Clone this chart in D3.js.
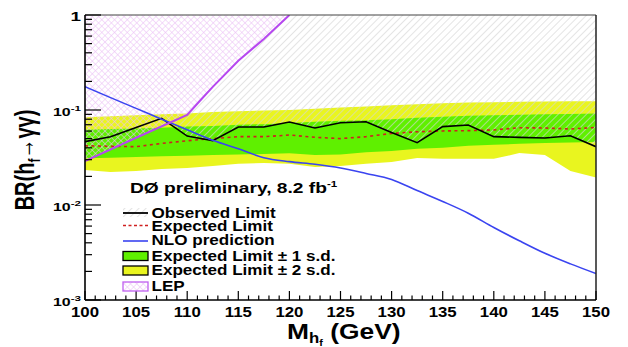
<!DOCTYPE html>
<html>
<head>
<meta charset="utf-8">
<script src="https://cdn.jsdelivr.net/npm/d3@7"></script>
<style>
  body { margin: 0; background: #fff; }
  text { font-family: "Liberation Sans", Arial, sans-serif; font-weight: bold; fill: #000; }
</style>
</head>
<body>
<svg id="chart" width="628" height="347"></svg>
<script>
// ---- data ----
var masses   = [100, 102.5, 105, 107.5, 110, 112.5, 115, 117.5, 120, 122.5, 125, 127.5, 130, 132.5, 135, 137.5, 140, 142.5, 145, 147.5, 150];
var observed = [0.0464, 0.0524, 0.0654, 0.0818, 0.0532, 0.0475, 0.0662, 0.0662, 0.0748, 0.0647, 0.0735, 0.0753, 0.058, 0.0453, 0.0668, 0.0695, 0.0524, 0.0515, 0.0507, 0.0536, 0.0411];
var expected = [0.042, 0.0415, 0.0411, 0.0445, 0.0475, 0.050, 0.0524, 0.0524, 0.0545, 0.0516, 0.050, 0.0524, 0.0567, 0.059, 0.0602, 0.0606, 0.0617, 0.065, 0.0647, 0.0631, 0.0656];
var sd2Up    = [0.084, 0.086, 0.088, 0.090, 0.092, 0.095, 0.097, 0.099, 0.100, 0.103, 0.106, 0.109, 0.112, 0.115, 0.118, 0.120, 0.121, 0.122, 0.123, 0.124, 0.124];
var sd1Up    = [0.062, 0.063, 0.064, 0.065, 0.067, 0.068, 0.070, 0.071, 0.073, 0.075, 0.077, 0.078, 0.080, 0.083, 0.085, 0.087, 0.088, 0.089, 0.090, 0.091, 0.092];
var sd1Down  = [0.031, 0.0315, 0.032, 0.0325, 0.033, 0.0335, 0.034, 0.0345, 0.035, 0.0336, 0.034, 0.036, 0.037, 0.039, 0.040, 0.042, 0.043, 0.044, 0.045, 0.0455, 0.046];
var sd2Down  = [0.0234, 0.0223, 0.0228, 0.0239, 0.0245, 0.0257, 0.0271, 0.0277, 0.0271, 0.0251, 0.0257, 0.0271, 0.0284, 0.0313, 0.0306, 0.0306, 0.0306, 0.0352, 0.0336, 0.0228, 0.0195];
var nlo      = [0.176, 0.135, 0.104, 0.080, 0.062, 0.048, 0.039, 0.0315, 0.0286, 0.0268, 0.0245, 0.0215, 0.0186, 0.0142, 0.0109, 0.0082, 0.0058, 0.0042, 0.0031, 0.0024, 0.0019];
var lepMass  = [100, 105, 110, 111.25, 112.5, 115, 117.5, 120];
var lep      = [0.029, 0.051, 0.089, 0.125, 0.175, 0.33, 0.56, 1.0];

var xTicks = [100, 105, 110, 115, 120, 125, 130, 135, 140, 145, 150];
var yTicks = [0.001, 0.01, 0.1, 1];
var yTickExp = ["-3", "-2", "-1", ""];
var legendLabels = ["Observed Limit", "Expected Limit", "NLO prediction", "Expected Limit \u00b1 1 s.d.", "Expected Limit \u00b1 2 s.d.", "LEP"];

// ---- layout ----
var pL = 85, pR = 596, pT = 15, pB = 300;
var x = d3.scaleLinear().domain([100, 150]).range([pL, pR]);
var y = d3.scaleLog().domain([0.001, 1]).range([pB, pT]);

var svg = d3.select("#chart");
var defs = svg.append("defs");

// gray "/" hatch for the excluded region
var gh = defs.append("pattern").attr("id", "grayHatch")
  .attr("patternUnits", "userSpaceOnUse").attr("width", 5).attr("height", 5)
  .attr("patternTransform", "rotate(45)");
gh.append("line").attr("x1", 0).attr("y1", 0).attr("x2", 0).attr("y2", 5)
  .attr("stroke", "#d6d6d6").attr("stroke-width", 1.3);

// pink cross hatch for LEP
var ph = defs.append("pattern").attr("id", "pinkHatch")
  .attr("patternUnits", "userSpaceOnUse").attr("width", 4.5).attr("height", 4.5)
  .attr("patternTransform", "rotate(45)");
ph.append("line").attr("x1", 0).attr("y1", 0).attr("x2", 0).attr("y2", 4.5)
  .attr("stroke", "#ecc0f6").attr("stroke-width", 1.1);
ph.append("line").attr("x1", 0).attr("y1", 0).attr("x2", 4.5).attr("y2", 0)
  .attr("stroke", "#ecc0f6").attr("stroke-width", 1.1);

defs.append("clipPath").attr("id", "plotClip")
  .append("rect").attr("x", pL).attr("y", pT).attr("width", pR - pL).attr("height", pB - pT);

// region outside of the LEP exclusion (below / right of the LEP curve)
var lepPts = lepMass.map(function (m, i) { return [x(m), y(lep[i])]; });
var outsideLep = lepPts.concat([[x(150), y(1)], [x(150), y(0.001)], [x(100), y(0.001)]]);
defs.append("clipPath").attr("id", "notLep")
  .append("path").attr("d", d3.line()(outsideLep) + "Z");

var plot = svg.append("g").attr("clip-path", "url(#plotClip)");

function band(lo, hi) {
  return d3.area()
    .x(function (d, i) { return x(masses[i]); })
    .y0(function (d, i) { return y(lo[i]); })
    .y1(function (d, i) { return y(hi[i]); })(masses);
}

plot.append("path").attr("d", band(sd2Down, sd2Up)).attr("fill", "#e9f51f");
plot.append("path").attr("d", band(sd1Down, sd1Up)).attr("fill", "#5ff000");

// excluded region above the observed limit
plot.append("g").attr("clip-path", "url(#notLep)")
  .append("path")
  .attr("d", d3.area()
    .x(function (d, i) { return x(masses[i]); })
    .y0(y(1))
    .y1(function (d, i) { return y(observed[i]); })(masses))
  .attr("fill", "url(#grayHatch)");

// LEP exclusion
plot.append("path")
  .attr("d", d3.area()
    .x(function (d, i) { return x(lepMass[i]); })
    .y0(y(1))
    .y1(function (d, i) { return y(lep[i]); })(lepMass))
  .attr("fill", "url(#pinkHatch)");

function curve(xs, vs, c) {
  return d3.line()
    .x(function (d, i) { return x(xs[i]); })
    .y(function (d, i) { return y(vs[i]); })
    .curve(c || d3.curveLinear)(xs);
}

plot.append("path").attr("d", curve(masses, expected)).attr("fill", "none")
  .attr("stroke", "#d02020").attr("stroke-width", 1.6).attr("stroke-dasharray", "3,3.5");
plot.append("path").attr("d", curve(masses, observed)).attr("fill", "none")
  .attr("stroke", "#000").attr("stroke-width", 1.6);
plot.append("path").attr("d", curve(masses, nlo, d3.curveMonotoneX)).attr("fill", "none")
  .attr("stroke", "#3a44f0").attr("stroke-width", 1.6);
plot.append("path").attr("d", curve(lepMass, lep)).attr("fill", "none")
  .attr("stroke", "#b647f0").attr("stroke-width", 2);

// ---- frame ----
svg.append("line").attr("x1", pL).attr("x2", pR).attr("y1", pT).attr("y2", pT)
  .attr("stroke", "#444").attr("stroke-width", 1.2);
svg.append("line").attr("x1", pR).attr("x2", pR).attr("y1", pT).attr("y2", pB)
  .attr("stroke", "#222").attr("stroke-width", 1.5);
svg.append("line").attr("x1", pL).attr("x2", pL).attr("y1", pT).attr("y2", pB)
  .attr("stroke", "#000").attr("stroke-width", 1.6);
svg.append("line").attr("x1", pL).attr("x2", pR).attr("y1", pB).attr("y2", pB)
  .attr("stroke", "#000").attr("stroke-width", 1.6);

// y ticks (inward)
var ticks = svg.append("g").attr("stroke", "#000").attr("stroke-width", 1.2);
yTicks.forEach(function (d) {
  var n = d < 1 ? 9 : 1;
  for (var k = 1; k <= n; k++) {
    var v = d * k, len = k === 1 ? 16 : 7;
    ticks.append("line").attr("x1", pL).attr("x2", pL + len)
      .attr("y1", y(v)).attr("y2", y(v));
  }
});
// x ticks (inward)
for (var m = 100; m <= 150; m++) {
  var len = m % 5 === 0 ? 9 : 4.5;
  ticks.append("line").attr("x1", x(m)).attr("x2", x(m))
    .attr("y1", pB).attr("y2", pB - len);
}

// x tick labels
xTicks.forEach(function (m) {
  svg.append("g").attr("transform", "translate(" + x(m) + ",317) scale(1.2,1)")
    .append("text").attr("text-anchor", "middle").attr("font-size", 14).text(m);
});

// y tick labels
yTicks.forEach(function (v, i) {
  var t = svg.append("g").attr("transform", "translate(81," + (y(v) + 6) + ") scale(1.45,1)")
    .append("text").attr("text-anchor", "end").attr("font-size", v === 1 ? 13 : 11);
  if (v === 1) { t.text("1"); return; }
  t.append("tspan").text("10");
  t.append("tspan").attr("dy", -5).attr("font-size", 8).text(yTickExp[i]);
});

// axis titles
var xt = svg.append("g").attr("transform", "translate(287,339) scale(1.2,1)")
  .append("text").attr("font-size", 22);
xt.append("tspan").text("M");
xt.append("tspan").attr("font-size", 14).attr("dy", 4).text("h");
xt.append("tspan").attr("font-size", 9).attr("dy", 3).text("f");
xt.append("tspan").attr("dy", -7).text(" (GeV)");

var yt = svg.append("g").attr("transform", "translate(34,160) rotate(-90) scale(1,1.4)")
  .append("text").attr("text-anchor", "middle").attr("font-size", 20);
yt.append("tspan").text("BR(h");
yt.append("tspan").attr("font-size", 12).attr("dy", 4).text("f");
yt.append("tspan").attr("dy", -4).text("\u2192\u03b3\u03b3)");

// ---- legend ----
var title = svg.append("g").attr("transform", "translate(130,193) scale(1.28,1)")
  .append("text").attr("font-size", 15);
title.append("tspan").text("D\u00d8 preliminary, 8.2 fb");
title.append("tspan").attr("dy", -6).attr("font-size", 9).text("-1");

var legendY = [218, 230.5, 245, 260.5, 275, 291];
var lx0 = 123, lx1 = 148;
var legend = svg.append("g");
legendLabels.forEach(function (lab, i) {
  var by = legendY[i];
  if (i === 0) {
    legend.append("rect").attr("x", lx0).attr("y", by - 10).attr("width", lx1 - lx0).attr("height", 9)
      .attr("fill", "url(#grayHatch)");
    legend.append("line").attr("x1", lx0).attr("x2", lx1).attr("y1", by - 5).attr("y2", by - 5)
      .attr("stroke", "#000").attr("stroke-width", 1.8);
  } else if (i === 1) {
    legend.append("line").attr("x1", lx0).attr("x2", lx1).attr("y1", by - 5).attr("y2", by - 5)
      .attr("stroke", "#d02020").attr("stroke-width", 1.4).attr("stroke-dasharray", "3,2.5");
  } else if (i === 2) {
    legend.append("line").attr("x1", lx0).attr("x2", lx1).attr("y1", by - 4).attr("y2", by - 4)
      .attr("stroke", "#3a44f0").attr("stroke-width", 1.6);
  } else {
    var fill = i === 3 ? "#5ff000" : i === 4 ? "#e9f51f" : "url(#pinkHatch)";
    var stroke = i === 5 ? "#c060f0" : "#000";
    legend.append("rect").attr("x", lx0).attr("y", by - 9).attr("width", lx1 - lx0).attr("height", 9)
      .attr("fill", fill).attr("stroke", stroke).attr("stroke-width", 1.3);
  }
  legend.append("g").attr("transform", "translate(151.5," + by + ") scale(1.22,1)")
    .append("text").attr("font-size", 14).text(lab);
});
</script>
</body>
</html>
